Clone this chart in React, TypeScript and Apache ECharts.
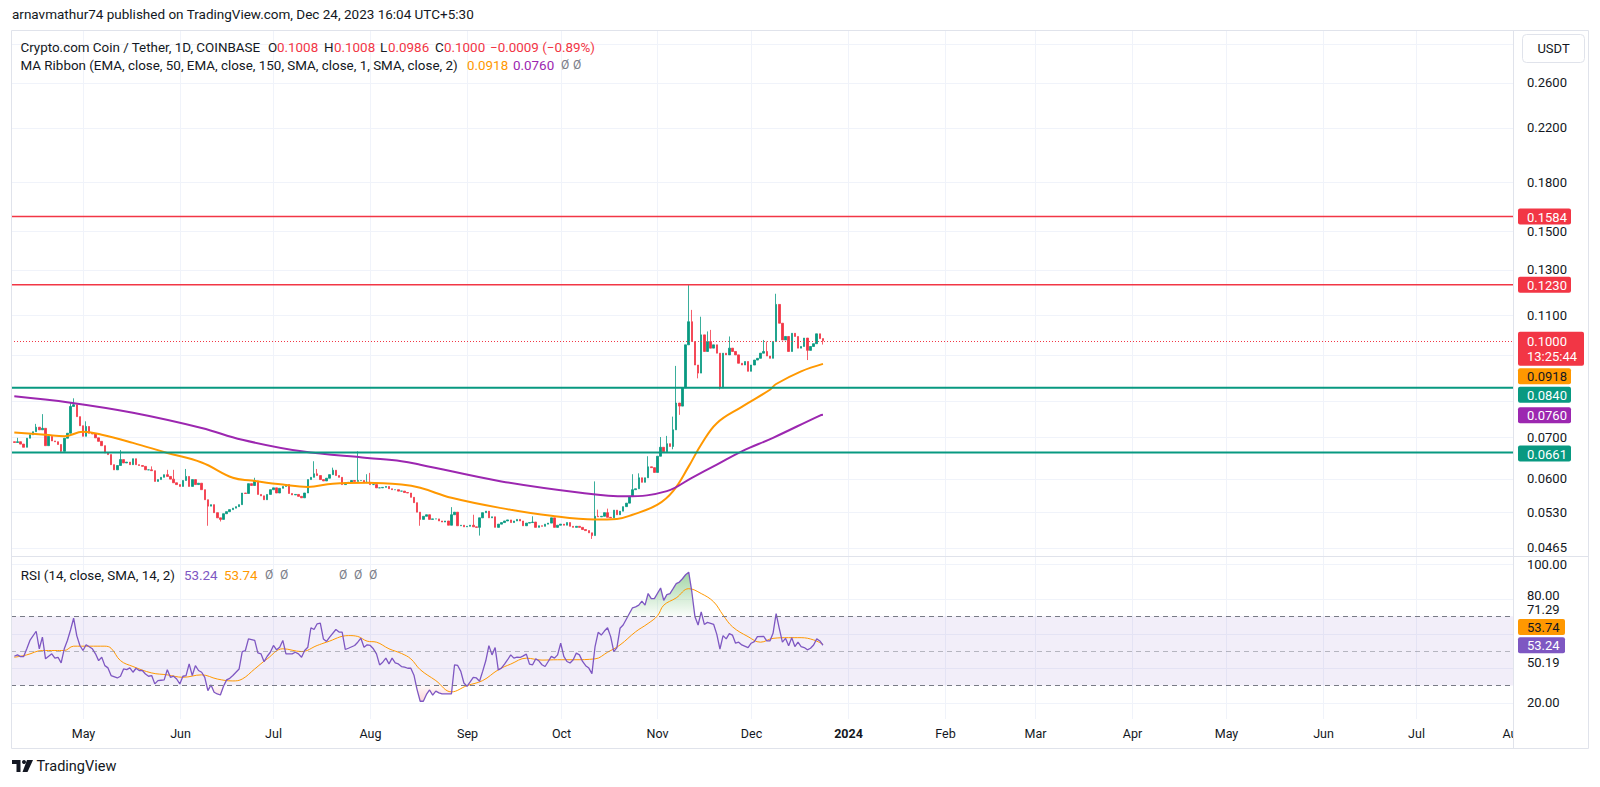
import React, { useEffect, useRef } from "react";
import * as echarts from "echarts";

// ---------- DATA ----------
// Daily candles, day offsets counted from 2023-05-01 (first candle 2023-04-09 = -22)
const FIRST_DAY = -22;
const FIRST_OPEN = 0.0688;
const closes = [
  0.0686, 0.0688, 0.0682, 0.0674, 0.0697, 0.0706, 0.0714, 0.0726, 0.0719, 0.0723,
  0.0678, 0.0702, 0.0690, 0.0688, 0.0681, 0.0664, 0.0697, 0.0710, 0.0784, 0.0789,
  0.0755, 0.0730, 0.0702, 0.0728, 0.0710, 0.0708, 0.0698, 0.0689, 0.0678, 0.0660,
  0.0656, 0.0632, 0.0620, 0.0630, 0.0644, 0.0636, 0.0638, 0.0632, 0.0646, 0.0632,
  0.0630, 0.0628, 0.0620, 0.0620, 0.0618, 0.0594, 0.0598, 0.0603, 0.0609, 0.0605,
  0.0599, 0.0591, 0.0587, 0.0583, 0.0596, 0.0605, 0.0583, 0.0598, 0.0587, 0.0590,
  0.0576, 0.0555, 0.0542, 0.0545, 0.0529, 0.0519, 0.0516, 0.0527, 0.0531, 0.0535,
  0.0538, 0.0541, 0.0545, 0.0569, 0.0568, 0.0589, 0.0585, 0.0595, 0.0566, 0.0563,
  0.0555, 0.0566, 0.0576, 0.0580, 0.0569, 0.0579, 0.0583, 0.0587, 0.0568, 0.0565,
  0.0566, 0.0562, 0.0559, 0.0569, 0.0598, 0.0603, 0.0611, 0.0607, 0.0598, 0.0595,
  0.0601, 0.0609, 0.0619, 0.0607, 0.0603, 0.0587, 0.0591, 0.0592, 0.0596, 0.0594,
  0.0596, 0.0596, 0.0591, 0.0592, 0.0587, 0.0587, 0.0580, 0.0580, 0.0581, 0.0583,
  0.0578, 0.0576, 0.0576, 0.0573, 0.0573, 0.0570, 0.0569, 0.0560, 0.0549, 0.0530,
  0.0516, 0.0522, 0.0525, 0.0516, 0.0517, 0.0517, 0.0513, 0.0511, 0.0513, 0.0505,
  0.0525, 0.0530, 0.0504, 0.0505, 0.0502, 0.0503, 0.0505, 0.0502, 0.0501, 0.0519,
  0.0529, 0.0532, 0.0519, 0.0521, 0.0501, 0.0507, 0.0510, 0.0513, 0.0515, 0.0510,
  0.0513, 0.0516, 0.0513, 0.0504, 0.0509, 0.0510, 0.0511, 0.0501, 0.0504, 0.0503,
  0.0507, 0.0509, 0.0519, 0.0501, 0.0505, 0.0507, 0.0505, 0.0510, 0.0503, 0.0501,
  0.0503, 0.0501, 0.0497, 0.0495, 0.0491, 0.0486, 0.0522, 0.0521, 0.0522, 0.0529,
  0.0520, 0.0519, 0.0534, 0.0525, 0.0532, 0.0541, 0.0548, 0.0562, 0.0576, 0.0578,
  0.0602, 0.0592, 0.0602, 0.0627, 0.0625, 0.0614, 0.0652, 0.0674, 0.0663, 0.0683,
  0.0676, 0.0719, 0.0794, 0.0785, 0.0840, 0.0985, 0.1073, 0.0997, 0.0914, 0.0887,
  0.1022, 0.0961, 0.0997, 0.0973, 0.0985, 0.0955, 0.0840, 0.0955, 0.0949, 0.0973,
  0.0961, 0.0949, 0.0920, 0.0914, 0.0926, 0.0893, 0.0914, 0.0931, 0.0937, 0.0955,
  0.0961, 0.0945, 0.0937, 0.0997, 0.1144, 0.1067, 0.1003, 0.1016, 0.0961, 0.1028,
  0.1016, 0.0973, 0.0979, 0.1010, 0.0965, 0.0979, 0.0989, 0.1026, 0.1008, 0.1000,
];
// visible wicks beyond the body: [day offset, price]
const highWicks: [number, number][] = [
  [-21, 0.0698], [-15, 0.0735], [-13, 0.0762], [-4, 0.0795], [-3, 0.0808], [1, 0.0742],
  [12, 0.0667], [22, 0.0628], [27, 0.062], [29, 0.062], [33, 0.0622], [55, 0.0602],
  [74, 0.064], [75, 0.0622], [80, 0.0625], [88, 0.0664], [91, 0.061], [92, 0.0613],
  [118, 0.054], [125, 0.0525], [144, 0.0522], [164, 0.0594], [165, 0.0535], [168, 0.0537],
  [176, 0.061], [178, 0.0612], [181, 0.0652], [185, 0.07], [187, 0.0703], [189, 0.0755],
  [190, 0.0911], [194, 0.1229], [195, 0.1121], [198, 0.1093], [200, 0.1035], [201, 0.1041],
  [207, 0.1016], [218, 0.1003], [219, 0.0997], [222, 0.119], [237, 0.1008],
];
const lowWicks: [number, number][] = [
  [-7, 0.066], [40, 0.0504], [44, 0.0512], [108, 0.0504], [127, 0.0486], [163, 0.048],
  [189, 0.0669], [191, 0.076], [197, 0.087], [204, 0.0835], [232, 0.0931], [237, 0.0986],
];
const ema50Pts: [number, number][] = [
  [-22, 0.0712], [-12, 0.0706], [-6, 0.0702], [0, 0.0714], [6, 0.0706], [16, 0.0685],
  [27, 0.066], [38, 0.0637], [48, 0.0602], [54, 0.0596], [64, 0.0587], [72, 0.0582],
  [80, 0.0589], [91, 0.0591], [102, 0.0587], [108, 0.058], [118, 0.0559], [134, 0.0538],
  [150, 0.0523], [164, 0.0516], [171, 0.0517], [176, 0.0525], [184, 0.0545], [189, 0.0573],
  [194, 0.0628], [198, 0.0681], [203, 0.0737], [211, 0.0783], [220, 0.0834], [222, 0.0852],
  [230, 0.0893], [237, 0.0918],
];
const ema150Pts: [number, number][] = [
  [-22, 0.0814], [-4, 0.0795], [16, 0.0766], [38, 0.0724], [51, 0.0693], [70, 0.0664],
  [91, 0.0648], [102, 0.064], [108, 0.0632], [134, 0.0594], [160, 0.0569], [174, 0.0562],
  [187, 0.0573], [195, 0.0602], [203, 0.0632], [211, 0.0664], [221, 0.0698], [236, 0.0758],
  [237, 0.076],
];
const rsiPts: [number, number][] = [
  [-22, 46.9], [-21, 47.7], [-20, 46.7], [-19, 46.7], [-18, 51.2], [-17, 56], [-15, 61.3],
  [-14, 51.2], [-13, 57.9], [-12, 45.4], [-11, 46.9], [-10, 48.3], [-9, 45.8], [-8, 46.3],
  [-7, 43.1], [-6, 51.2], [-5, 56], [-4, 62], [-3, 68.8], [-2, 58.8], [-1, 53.1], [0, 50.2],
  [1, 53.5], [3, 51.2], [4, 48.3], [5, 44.4], [6, 46.3], [7, 41.5], [8, 40.2], [9, 35.8],
  [11, 34.4], [12, 35.4], [13, 39.6], [14, 39.2], [15, 40.2], [16, 37.7], [17, 40], [18, 38.7],
  [19, 38.7], [20, 36.7], [21, 35.4], [22, 35.8], [23, 31], [24, 32.9], [25, 33.1], [26, 33.3],
  [27, 39.2], [28, 34.8], [29, 35.4], [30, 33.8], [31, 31], [32, 35.4], [33, 35.8], [34, 42.5],
  [35, 35.8], [36, 41.5], [37, 38.7], [38, 37.7], [39, 34.8], [40, 27.1], [41, 30.4], [42, 26.2],
  [43, 25.2], [44, 24.6], [45, 29.6], [46, 33.3], [47, 34.2], [48, 35.8], [50, 39.6], [51, 49.6],
  [52, 50.2], [53, 56.9], [54, 56.5], [55, 56], [56, 48.8], [57, 48.3], [58, 43.8], [59, 46.9],
  [60, 49.2], [61, 53.1], [62, 50.6], [63, 52.1], [64, 56], [65, 48.3], [67, 48.3], [68, 49.2],
  [69, 48.3], [70, 46.3], [71, 50.2], [72, 52.1], [73, 63.3], [74, 62.3], [75, 65.6], [76, 66],
  [77, 56.9], [78, 55.4], [79, 57.9], [81, 62.3], [82, 60.8], [83, 60.8], [84, 50.8], [85, 51.5],
  [87, 53.1], [88, 55], [89, 57.3], [90, 52.1], [91, 53.5], [92, 53.1], [93, 51.2], [94, 48.3],
  [95, 41.9], [96, 43.5], [97, 45.8], [98, 42.5], [99, 45.8], [100, 43.1], [101, 42.5], [102, 41],
  [103, 40.6], [104, 40], [105, 40], [106, 36], [107, 27.7], [108, 21], [109, 21], [110, 24.9],
  [111, 27.5], [112, 24.5], [113, 26.8], [114, 25.8], [115, 25.2], [116, 25.2], [117, 25.2],
  [118, 25.2], [119, 42], [120, 41.6], [121, 38.2], [122, 31.5], [123, 29.6], [124, 32.1],
  [125, 34.8], [126, 34.4], [127, 32.5], [128, 38.2], [129, 44.3], [130, 53], [131, 47.7],
  [132, 51.9], [133, 39.1], [134, 40.1], [135, 42.4], [136, 44.9], [137, 47.7], [138, 45.8],
  [139, 46.4], [140, 46.2], [141, 47.1], [142, 48.1], [143, 42.4], [144, 42], [145, 45.4],
  [146, 44.3], [147, 42], [148, 41], [149, 43.9], [150, 46.8], [151, 45.8], [152, 47.7],
  [153, 54.4], [154, 46.8], [155, 43.9], [156, 43], [157, 44.9], [158, 48.7], [159, 47.7],
  [160, 43.9], [161, 41.5], [162, 40.1], [163, 36.9], [164, 52.5], [165, 60.7], [166, 59.1],
  [167, 61.4], [168, 63.3], [169, 58.2], [170, 49.6], [171, 51.9], [172, 63], [173, 64.9],
  [175, 71.5], [176, 74.8], [177, 75.3], [178, 76.3], [179, 78.6], [180, 76.3], [181, 83],
  [182, 80.1], [183, 80.1], [185, 86.2], [186, 79.1], [187, 82.4], [188, 83], [189, 85.8],
  [190, 88.7], [191, 89.6], [192, 91.5], [193, 93.8], [194, 95.3], [195, 83.9], [196, 69.6],
  [197, 64.9], [198, 72.5], [199, 65.2], [200, 66.4], [201, 65.8], [202, 65.2], [203, 59.5],
  [204, 51], [205, 58.8], [206, 56.9], [207, 59.9], [208, 59.1], [209, 54.4], [210, 55],
  [211, 53.4], [213, 51.9], [214, 54.4], [215, 55.3], [216, 58.2], [218, 58.4], [219, 55.7],
  [220, 55.7], [221, 60.1], [222, 71.5], [223, 63], [224, 55], [225, 57.2], [226, 53],
  [227, 57.6], [228, 52.5], [229, 55], [230, 52.5], [231, 51.9], [232, 50.6], [233, 51.5],
  [234, 53.4], [235, 56.9], [236, 55.7], [237, 53.24],
];
const rsiMaPts: [number, number][] = [
  [-22, 46.3], [-18, 47.7], [-13, 50.2], [-9, 50.2], [-6, 50.2], [-3, 52.7], [2, 52.7],
  [7, 52.7], [9, 51.5], [12, 44.4], [16, 41], [22, 37.3], [27, 36.2], [32, 34.8], [38, 36.2],
  [43, 33.8], [48, 32.7], [51, 33.8], [55, 39.6], [59, 45.4], [64, 51.2], [70, 49.6], [75, 53.1],
  [78, 55], [85, 58.8], [88, 58.3], [91, 55.6], [94, 55], [98, 51.2], [102, 48.5], [105, 45.4],
  [108, 39.2], [113, 32.9], [118, 26.4], [123, 30], [128, 32.9], [133, 39.1], [137, 42.4],
  [142, 45.8], [147, 44.7], [152, 44.9], [157, 44.9], [164, 45.4], [168, 49.2], [172, 53.4],
  [177, 61], [181, 65.8], [184, 70.2], [186, 76.3], [190, 80.5], [194, 85.8], [198, 83],
  [202, 78.2], [205, 70.6], [208, 63.9], [213, 58.2], [217, 55], [221, 57.2], [226, 57.6],
  [230, 57.6], [234, 56.3], [237, 53.74],
];
const redLevels = [0.1584, 0.123];
const greenLevels = [0.084, 0.0661];
const lastPrice = 0.1;
const lastOpen = 0.1008;
const ema50Last = 0.0918;
const ema150Last = 0.076;
const rsiLast = 53.24;
const rsiMaLast = 53.74;
// price-scale tick levels (all get a grid line) and the labels that are visible
const priceTicks = [0.3, 0.26, 0.22, 0.18, 0.15, 0.13, 0.11, 0.095, 0.08, 0.07, 0.06, 0.053, 0.0465];
const priceTickLabels = ["", "0.2600", "0.2200", "0.1800", "0.1500", "0.1300", "0.1100", "", "", "0.0700", "0.0600", "0.0530", "0.0465"];
const rsiGridValues = [100, 80, 60, 40, 20];
const rsiBands = [70, 50, 30];
const rsiTickLabels = ["100.00", "80.00", "71.29", "50.19", "20.00"];
const rsiTickAt = [100, 81.7, 73.8, 43.2, 20];
const monthYears = [2023, 2023, 2023, 2023, 2023, 2023, 2023, 2023, 2024, 2024, 2024, 2024, 2024, 2024, 2024, 2024];
const monthIdx = [4, 5, 6, 7, 8, 9, 10, 11, 0, 1, 2, 3, 4, 5, 6, 7];
const monthLabels = ["May", "Jun", "Jul", "Aug", "Sep", "Oct", "Nov", "Dec", "2024", "Feb", "Mar", "Apr", "May", "Jun", "Jul", "Aug"];

// ---------- STYLE ----------
const UP = "#089981";
const DOWN = "#f23645";
const ORANGE = "#ff9800";
const PURPLE = "#9c27b0";
const RSI_C = "#7e57c2";
const TEXT = "#131722";
const GRAY = "#787b86";
const GRID = "#f0f3fa";
const BORDER = "#e0e3eb";
const FONT = 'Roboto, "DejaVu Sans", sans-serif';

const DAY = 86400000;
const BASE = Date.UTC(2023, 4, 1);
const t = (d: number) => BASE + d * DAY;
const X_MIN = t(-23.06);
const X_MAX = t(458.0);
const P_MIN = 0.04506;
const P_MAX = 0.3149;
const R_MIN = 10.79;
const R_MAX = 104.03;
const PLOT_L = 11;
const PLOT_R = 1513;

function buildOption(): any {
  const hi = new Map(highWicks);
  const lo = new Map(lowWicks);
  const candles = closes.map((c, i) => {
    const d = FIRST_DAY + i;
    const o = i === 0 ? FIRST_OPEN : closes[i - 1];
    const h = Math.max(o, c, hi.get(d) ?? 0);
    const l = Math.min(o, c, lo.get(d) ?? Infinity);
    return [t(d), o, c, l, h];
  });
  const rsiData = rsiPts.map(([d, v]) => [t(d), v]);
  const obBase = rsiPts.map(([d]) => [t(d), 70]);
  const obTop = rsiPts.map(([d, v]) => [t(d), Math.max(v - 70, 0)]);
  const osBase = rsiPts.map(([d, v]) => [t(d), Math.min(v, 30)]);
  const osTop = rsiPts.map(([d, v]) => [t(d), 30 - Math.min(v, 30)]);
  const hidden = { opacity: 0, width: 0 };

  return {
    animation: false,
    backgroundColor: "#ffffff",
    textStyle: { fontFamily: FONT },
    grid: [
      { left: PLOT_L, width: PLOT_R - PLOT_L, top: 31, height: 525 },
      { left: PLOT_L, width: PLOT_R - PLOT_L, top: 557, height: 162 },
    ],
    xAxis: [
      { type: "time", gridIndex: 0, min: X_MIN, max: X_MAX, show: false },
      { type: "time", gridIndex: 1, min: X_MIN, max: X_MAX, show: false },
    ],
    yAxis: [
      { type: "log", logBase: 10, gridIndex: 0, min: P_MIN, max: P_MAX, show: false },
      { type: "value", gridIndex: 1, min: R_MIN, max: R_MAX, show: false },
    ],
    series: [
      {
        type: "candlestick",
        xAxisIndex: 0,
        yAxisIndex: 0,
        dimensions: ["date", "open", "close", "lowest", "highest"],
        encode: { x: 0, y: [1, 2, 3, 4] },
        data: candles,
        barWidth: 2,
        z: 2,
        itemStyle: { color: UP, color0: DOWN, borderColor: UP, borderColor0: DOWN, borderWidth: 0.8 },
      },
      {
        type: "line",
        xAxisIndex: 0,
        yAxisIndex: 0,
        data: ema50Pts.map(([d, v]) => [t(d), v]),
        smooth: 0.4,
        showSymbol: false,
        z: 3,
        lineStyle: { color: ORANGE, width: 2 },
      },
      {
        type: "line",
        xAxisIndex: 0,
        yAxisIndex: 0,
        data: ema150Pts.map(([d, v]) => [t(d), v]),
        smooth: 0.4,
        showSymbol: false,
        z: 3,
        lineStyle: { color: PURPLE, width: 2 },
      },
      {
        type: "line",
        xAxisIndex: 1,
        yAxisIndex: 1,
        data: obBase,
        stack: "ob",
        showSymbol: false,
        silent: true,
        lineStyle: hidden,
        z: 1,
      },
      {
        type: "line",
        xAxisIndex: 1,
        yAxisIndex: 1,
        data: obTop,
        stack: "ob",
        showSymbol: false,
        silent: true,
        lineStyle: hidden,
        z: 1,
        areaStyle: {
          color: new echarts.graphic.LinearGradient(0, 0, 0, 1, [
            { offset: 0, color: "rgba(76,175,80,0.75)" },
            { offset: 1, color: "rgba(76,175,80,0.04)" },
          ]),
        },
      },
      {
        type: "line",
        xAxisIndex: 1,
        yAxisIndex: 1,
        data: osBase,
        stack: "os",
        showSymbol: false,
        silent: true,
        lineStyle: hidden,
        z: 1,
      },
      {
        type: "line",
        xAxisIndex: 1,
        yAxisIndex: 1,
        data: osTop,
        stack: "os",
        showSymbol: false,
        silent: true,
        lineStyle: hidden,
        z: 1,
        areaStyle: {
          color: new echarts.graphic.LinearGradient(0, 0, 0, 1, [
            { offset: 0, color: "rgba(242,54,69,0.04)" },
            { offset: 1, color: "rgba(242,54,69,0.3)" },
          ]),
        },
      },
      {
        type: "line",
        xAxisIndex: 1,
        yAxisIndex: 1,
        data: rsiData,
        showSymbol: false,
        z: 4,
        lineStyle: { color: RSI_C, width: 1.3 },
        markArea: {
          silent: true,
          itemStyle: { color: "rgba(126,87,194,0.1)" },
          data: [[{ yAxis: rsiBands[2] }, { yAxis: rsiBands[0] }]],
        },
        markLine: {
          silent: true,
          symbol: "none",
          label: { show: false },
          lineStyle: { color: GRAY, width: 1, type: [5, 4] },
          data: [
            { yAxis: rsiBands[0] },
            { yAxis: rsiBands[1], lineStyle: { color: GRAY, width: 1, type: [5, 4], opacity: 0.5 } },
            { yAxis: rsiBands[2] },
          ],
        },
      },
      {
        type: "line",
        xAxisIndex: 1,
        yAxisIndex: 1,
        data: rsiMaPts.map(([d, v]) => [t(d), v]),
        smooth: 0.4,
        showSymbol: false,
        z: 3,
        lineStyle: { color: ORANGE, width: 1 },
      },
    ],
  };
}

function txt(text: string, x: number, y: number, color = TEXT, size = 13, align = "left", weight = "normal", z = 20): any {
  return {
    type: "text",
    x,
    y,
    z,
    silent: true,
    style: {
      text,
      fill: color,
      font: `${weight} ${size}px ${FONT}`,
      textAlign: align,
      align,
      textVerticalAlign: "middle",
      verticalAlign: "middle",
    },
  };
}
function ln(x1: number, y1: number, x2: number, y2: number, color: string, z = 0, w = 1, dash?: number[]): any {
  return {
    type: "line",
    z,
    silent: true,
    shape: { x1, y1, x2, y2 },
    style: { stroke: color, lineWidth: w, lineDash: dash ?? null },
  };
}
function rect(x: number, y: number, width: number, height: number, fill: string, z = 30, stroke?: string, r = 2): any {
  return { type: "rect", z, silent: true, shape: { x, y, width, height, r }, style: { fill, stroke: stroke ?? "none", lineWidth: 1 } };
}
function box(label: string, cy: number, bg: string, fg: string, w = 53, h = 16): any[] {
  return [rect(1518, cy - h / 2, w, h, bg, 30), txt(label, 1527, cy + 0.5, fg, 13, "left", "normal", 31)];
}

function buildGraphic(chart: any): any[] {
  const px = (ms: number) => chart.convertToPixel({ xAxisIndex: 0 }, ms) as number;
  const py = (v: number) => chart.convertToPixel({ yAxisIndex: 0 }, v) as number;
  const ry = (v: number) => chart.convertToPixel({ yAxisIndex: 1 }, v) as number;
  const els: any[] = [];

  // grid lines
  priceTicks.forEach((v) => {
    const y = Math.round(py(v)) + 0.5;
    els.push(ln(PLOT_L, y, PLOT_R, y, GRID, 0));
  });
  rsiGridValues.forEach((v) => {
    const y = Math.round(ry(v)) + 0.5;
    els.push(ln(PLOT_L, y, PLOT_R, y, GRID, 0));
  });
  monthLabels.forEach((lab, i) => {
    const x = Math.round(px(Date.UTC(monthYears[i], monthIdx[i], 1))) + 0.5;
    els.push(ln(x, 31, x, 719, GRID, 0));
    els.push(txt(lab, x, 733, TEXT, 12.5, "center", lab === "2024" ? "bold" : "normal", 20));
  });
  // time labels are cut at the price-scale column
  els.push(rect(1514, 720, 73, 27, "#ffffff", 25, undefined, 0));

  // horizontal level lines (support / resistance) and last-price line
  redLevels.forEach((v) => els.push(ln(PLOT_L, py(v), PLOT_R, py(v), DOWN, 6, 1.5)));
  greenLevels.forEach((v) => els.push(ln(PLOT_L, py(v), PLOT_R, py(v), UP, 6, 2)));
  els.push(ln(PLOT_L, Math.round(py(lastPrice)) + 0.5, PLOT_R, Math.round(py(lastPrice)) + 0.5, DOWN, 6, 1, [1, 2]));

  // frame and separators
  els.push({ type: "rect", z: 26, silent: true, shape: { x: 11.5, y: 30.5, width: 1577, height: 718 }, style: { fill: "none", stroke: BORDER, lineWidth: 1 } });
  els.push(ln(PLOT_R + 0.5, 31, PLOT_R + 0.5, 748, BORDER, 26));
  els.push(ln(11, 556.5, 1588, 556.5, BORDER, 26));

  // header texts
  const LF = 13.4;
  els.push(txt("arnavmathur74 published on TradingView.com, Dec 24, 2023 16:04 UTC+5:30", 12, 14, TEXT, 13.5));
  els.push(txt("Crypto.com Coin / Tether, 1D, COINBASE", 20.5, 47, TEXT, LF));
  els.push(txt("O", 268, 47, TEXT, LF));
  els.push(txt(lastOpen.toFixed(4), 277, 47, DOWN, LF));
  els.push(txt("H", 324, 47, TEXT, LF));
  els.push(txt("0.1008", 334, 47, DOWN, LF));
  els.push(txt("L", 380, 47, TEXT, LF));
  els.push(txt("0.0986", 388, 47, DOWN, LF));
  els.push(txt("C", 435, 47, TEXT, LF));
  els.push(txt(lastPrice.toFixed(4), 444, 47, DOWN, LF));
  els.push(txt("\u22120.0009 (\u22120.89%)", 490, 47, DOWN, LF));
  els.push(txt("MA Ribbon (EMA, close, 50, EMA, close, 150, SMA, close, 1, SMA, close, 2)", 20.5, 65, TEXT, LF));
  els.push(txt(ema50Last.toFixed(4), 467, 65, ORANGE, LF));
  els.push(txt(ema150Last.toFixed(4), 513, 65, PURPLE, LF));
  els.push(txt("\u00d8", 561, 65, GRAY, 12));
  els.push(txt("\u00d8", 573, 65, GRAY, 12));
  els.push(txt("RSI (14, close, SMA, 14, 2)", 20.7, 575, TEXT, LF));
  els.push(txt(rsiLast.toFixed(2), 184, 575, RSI_C, LF));
  els.push(txt(rsiMaLast.toFixed(2), 224, 575, ORANGE, LF));
  [265, 280, 339, 354, 369].forEach((x) => els.push(txt("\u00d8", x, 575, GRAY, 12)));

  // price scale labels
  priceTicks.forEach((v, i) => {
    if (priceTickLabels[i]) els.push(txt(priceTickLabels[i], 1527, py(v), TEXT, 13));
  });
  els.push(rect(1522.5, 34.5, 62, 28, "#ffffff", 30, BORDER, 4));
  els.push(txt("USDT", 1553.5, 48.5, TEXT, 13, "center", "normal", 31));
  redLevels.forEach((v) => els.push(...box(v.toFixed(4), py(v), DOWN, "#ffffff")));
  // last price label with countdown
  const yl = py(lastPrice);
  els.push(rect(1518, yl - 9, 66, 34, DOWN, 30));
  els.push(txt(lastPrice.toFixed(4), 1527, yl + 1, "#ffffff", 13, "left", "normal", 31));
  els.push(txt("13:25:44", 1527, yl + 16, "#ffffff", 13, "left", "normal", 31));
  els.push(...box(ema50Last.toFixed(4), py(ema50Last) + 12.5, ORANGE, TEXT));
  els.push(...box(greenLevels[0].toFixed(4), py(greenLevels[0]) + 7, UP, "#ffffff"));
  els.push(...box(ema150Last.toFixed(4), py(ema150Last) + 0.5, PURPLE, "#ffffff"));
  els.push(...box(greenLevels[1].toFixed(4), py(greenLevels[1]) + 1, UP, "#ffffff"));

  // RSI scale labels
  rsiTickLabels.forEach((lab, i) => {
    const y = ry(rsiTickAt[i]);
    els.push(txt(lab, 1527, y, TEXT, 13, "left", "normal", 20));
  });
  els.push(...box(rsiMaLast.toFixed(2), ry(rsiMaLast) - 17.5, ORANGE, TEXT, 47));
  els.push(...box(rsiLast.toFixed(2), ry(rsiLast), RSI_C, "#ffffff", 47));

  // TradingView logo
  els.push({ type: "polygon", z: 20, silent: true, shape: { points: [[12, 760], [20.5, 760], [20.5, 772], [16.5, 772], [16.5, 764], [12, 764]] }, style: { fill: TEXT } });
  els.push({ type: "circle", z: 20, silent: true, shape: { cx: 24, cy: 762, r: 2 }, style: { fill: TEXT } });
  els.push({ type: "polygon", z: 20, silent: true, shape: { points: [[27, 760], [33, 760], [27.5, 772], [22.5, 772]] }, style: { fill: TEXT } });
  els.push(txt("TradingView", 36.5, 766, TEXT, 14.5));
  return els;
}

export default function App() {
  const ref = useRef<HTMLDivElement>(null);
  useEffect(() => {
    document.body.style.margin = "0";
    const chart = echarts.init(ref.current as HTMLDivElement, undefined, { renderer: "svg" });
    chart.setOption(buildOption());
    chart.setOption({ graphic: { elements: buildGraphic(chart) } });
    return () => chart.dispose();
  }, []);
  return (
    <div
      ref={ref}
      style={{ position: "fixed", left: 0, top: 0, width: 1600, height: 787, background: "#ffffff" }}
    />
  );
}
